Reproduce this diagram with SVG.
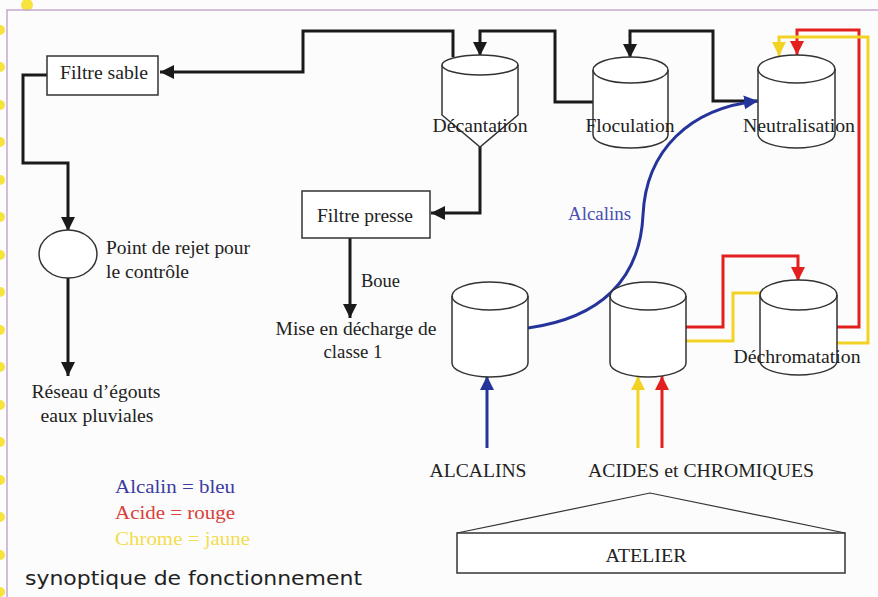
<svg xmlns="http://www.w3.org/2000/svg" width="878" height="597" viewBox="0 0 878 597">
<defs>
<style>
.t{font-family:"Liberation Serif","Times New Roman",serif;font-size:19px;fill:#222}
.c{text-anchor:middle}
.box{fill:#fff;stroke:#333;stroke-width:1.5}
.cyl{fill:#fff;stroke:#333;stroke-width:1.5}
.k{fill:none;stroke:#1a1a1a;stroke-width:3}
.b{fill:none;stroke:#24349a;stroke-width:3}
.r{fill:none;stroke:#e3201e;stroke-width:3}
.y{fill:none;stroke:#f2d325;stroke-width:3}
.dot{fill:#f6e33c}
</style>
<marker id="ak" markerUnits="userSpaceOnUse" markerWidth="16" markerHeight="14" refX="14" refY="7" orient="auto"><path d="M0,0 L14,7 L0,14 z" fill="#1a1a1a"/></marker>
<marker id="ab" markerUnits="userSpaceOnUse" markerWidth="16" markerHeight="14" refX="14" refY="7" orient="auto"><path d="M0,0 L14,7 L0,14 z" fill="#24349a"/></marker>
<marker id="ar" markerUnits="userSpaceOnUse" markerWidth="16" markerHeight="14" refX="14" refY="7" orient="auto"><path d="M0,0 L14,7 L0,14 z" fill="#e3201e"/></marker>
<marker id="ay" markerUnits="userSpaceOnUse" markerWidth="16" markerHeight="14" refX="14" refY="7" orient="auto"><path d="M0,0 L14,7 L0,14 z" fill="#f2d325"/></marker>
</defs>
<rect width="878" height="597" fill="#fcfcfc"/>
<g id="frame">
<circle class="dot" cx="27" cy="5" r="6"/>
<circle class="dot" cx="0" cy="30" r="5"/><circle class="dot" cx="0" cy="67" r="5"/><circle class="dot" cx="0" cy="105" r="5"/><circle class="dot" cx="0" cy="142" r="5"/><circle class="dot" cx="0" cy="180" r="5"/><circle class="dot" cx="0" cy="217" r="5"/><circle class="dot" cx="0" cy="255" r="5"/><circle class="dot" cx="0" cy="292" r="5"/><circle class="dot" cx="0" cy="330" r="5"/><circle class="dot" cx="0" cy="367" r="5"/><circle class="dot" cx="0" cy="405" r="5"/><circle class="dot" cx="0" cy="442" r="5"/><circle class="dot" cx="0" cy="480" r="5"/><circle class="dot" cx="0" cy="517" r="5"/><circle class="dot" cx="0" cy="555" r="5"/><circle class="dot" cx="0" cy="592" r="5"/>
<path d="M7,597 V10 H878" fill="none" stroke="#c9a6cf" stroke-width="1.5"/>
</g>
<g id="connectors">
<path class="k" d="M453,57 V31 H303 V72 H160" marker-end="url(#ak)"/>
<path class="k" d="M593,102 H555 V31 H480 V56" marker-end="url(#ak)"/>
<path class="k" d="M757,101 H713 V31 H630 V58" marker-end="url(#ak)"/>
<path class="k" d="M480,147 V213 H431" marker-end="url(#ak)"/>
<path class="k" d="M47,75 H23 V163 H68 V231" marker-end="url(#ak)"/>
<path class="k" d="M68,278 V376" marker-end="url(#ak)"/>
<path class="k" d="M350,238 V318" marker-end="url(#ak)"/>
<path class="b" d="M528,328 C600,318 640,280 643,215 C646,150 690,108 758,101" marker-end="url(#ab)"/>
<path class="b" d="M487,448 V376" marker-end="url(#ab)"/>
<path class="y" d="M638,448 V376" marker-end="url(#ay)"/>
<path class="r" d="M662,448 V376" marker-end="url(#ar)"/>
<path class="r" d="M686,327 H723 V256 H798 V281" marker-end="url(#ar)"/>
<path class="y" d="M686,341 H733 V293 H779" marker-end="url(#ay)"/>
<path class="r" d="M837,327 H859 V30 H797 V55" marker-end="url(#ar)"/>
<path class="y" d="M837,343 H868 V37 H779 V56" marker-end="url(#ay)"/>
</g>
<g id="filtre-sable"><rect class="box" x="47" y="56" width="111" height="39"/><text class="t c" x="104" y="79" textLength="88" lengthAdjust="spacingAndGlyphs">Filtre sable</text></g>
<g id="filtre-presse"><rect class="box" x="302" y="191" width="128" height="47"/><text class="t c" x="365" y="222" textLength="96" lengthAdjust="spacingAndGlyphs">Filtre presse</text></g>
<g id="point-rejet"><ellipse class="box" cx="68" cy="254" rx="29" ry="24"/><text class="t" x="106" y="254" textLength="144" lengthAdjust="spacingAndGlyphs">Point de rejet pour</text><text class="t" x="106" y="278" textLength="83" lengthAdjust="spacingAndGlyphs">le contrôle</text></g>
<g id="reseau"><text class="t c" x="96" y="398" textLength="129" lengthAdjust="spacingAndGlyphs">Réseau d’égouts</text><text class="t c" x="97" y="422" textLength="113" lengthAdjust="spacingAndGlyphs">eaux pluviales</text></g>
<g id="boue"><text class="t" x="361" y="287" textLength="39" lengthAdjust="spacingAndGlyphs">Boue</text></g>
<g id="decharge"><text class="t c" x="356" y="335" textLength="161" lengthAdjust="spacingAndGlyphs">Mise en décharge de</text><text class="t c" x="353" y="358" textLength="59" lengthAdjust="spacingAndGlyphs">classe 1</text></g>
<g id="decantation"><path class="cyl" d="M442,65 A38,10 0 0 1 518,65 V115 L480,147 L442,115 Z"/><path d="M442,65 A38,10 0 0 0 518,65" fill="none" stroke="#333" stroke-width="1.5"/><text class="t c" x="480" y="132" textLength="95" lengthAdjust="spacingAndGlyphs">Décantation</text></g>
<g id="floculation"><path class="cyl" d="M593,70 A37.5,13 0 0 1 668,70 V135 A37.5,13 0 0 1 593,135 Z"/><path d="M593,70 A37.5,13 0 0 0 668,70" fill="none" stroke="#333" stroke-width="1.5"/><text class="t c" x="630" y="132" textLength="89" lengthAdjust="spacingAndGlyphs">Floculation</text></g>
<g id="neutralisation"><path class="cyl" d="M758,69 A38.5,14 0 0 1 835,69 V134 A38.5,14 0 0 1 758,134 Z"/><path d="M758,69 A38.5,14 0 0 0 835,69" fill="none" stroke="#333" stroke-width="1.5"/><text class="t c" x="799" y="132" textLength="112" lengthAdjust="spacingAndGlyphs">Neutralisation</text></g>
<g id="alcalins-tank"><path class="cyl" d="M452,296 A38,14 0 0 1 528,296 V363 A38,14 0 0 1 452,363 Z"/><path d="M452,296 A38,14 0 0 0 528,296" fill="none" stroke="#333" stroke-width="1.5"/></g>
<g id="acides-tank"><path class="cyl" d="M610,296 A38,14 0 0 1 686,296 V363 A38,14 0 0 1 610,363 Z"/><path d="M610,296 A38,14 0 0 0 686,296" fill="none" stroke="#333" stroke-width="1.5"/></g>
<g id="dechromatation"><path class="cyl" d="M760,295 A38.5,15 0 0 1 837,295 V361 A38.5,14 0 0 1 760,361 Z"/><path d="M760,295 A38.5,15 0 0 0 837,295" fill="none" stroke="#333" stroke-width="1.5"/><text class="t c" x="797" y="363" textLength="127" lengthAdjust="spacingAndGlyphs">Déchromatation</text></g>
<g id="alcalins-label"><text class="t" x="568" y="220" fill="#4a4fb0" style="fill:#4a4fb0" textLength="63" lengthAdjust="spacingAndGlyphs">Alcalins</text></g>
<g id="alcalins-source"><text class="t c" x="478" y="477" textLength="97" lengthAdjust="spacingAndGlyphs">ALCALINS</text></g>
<g id="acides-source"><text class="t c" x="701" y="477" textLength="226" lengthAdjust="spacingAndGlyphs">ACIDES et CHROMIQUES</text></g>
<g id="atelier"><path d="M457,533 L650,493 L845,533" fill="none" stroke="#333" stroke-width="1.2"/><rect class="box" x="457" y="533" width="388" height="40"/><text class="t c" x="646" y="562" textLength="81" lengthAdjust="spacingAndGlyphs">ATELIER</text></g>
<g id="legend"><text class="t" x="115" y="493" style="fill:#3c3ca0" textLength="120" lengthAdjust="spacingAndGlyphs">Alcalin = bleu</text><text class="t" x="115" y="519" style="fill:#d8403a" textLength="120" lengthAdjust="spacingAndGlyphs">Acide = rouge</text><text class="t" x="115" y="545" style="fill:#f2dc50" textLength="135" lengthAdjust="spacingAndGlyphs">Chrome = jaune</text></g>
<g id="title"><text x="25" y="585" style="font-family:'DejaVu Sans','Liberation Sans',sans-serif;font-size:20px;fill:#222" textLength="337" lengthAdjust="spacingAndGlyphs">synoptique de fonctionnement</text></g>
</svg>
